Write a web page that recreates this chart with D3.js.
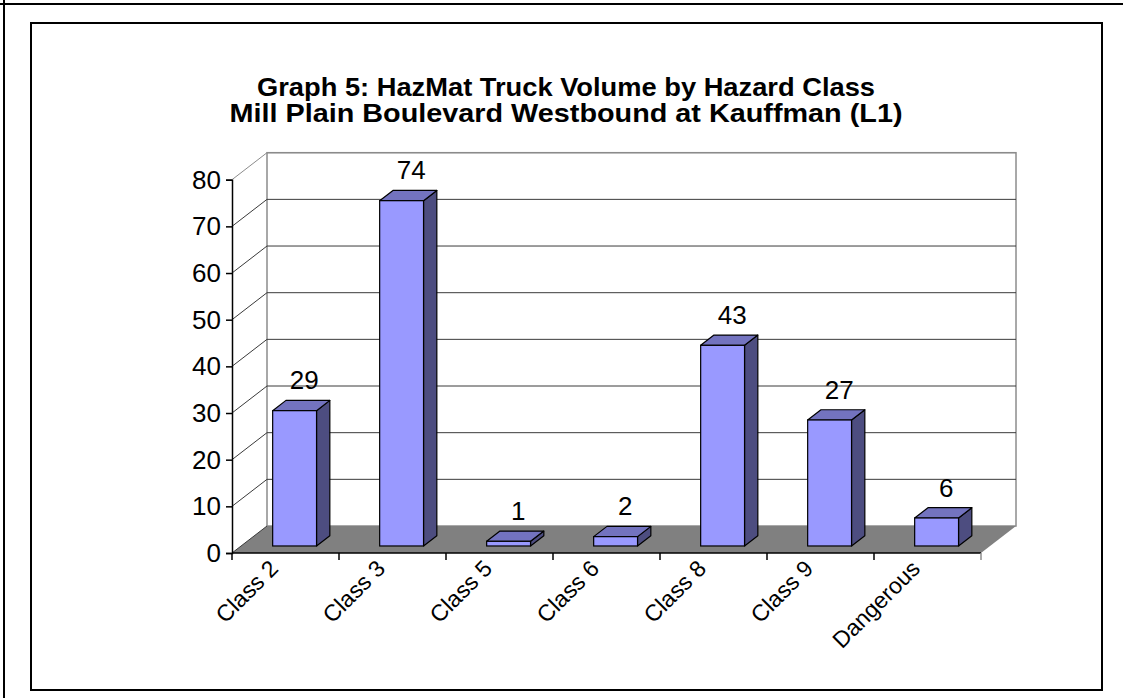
<!DOCTYPE html>
<html>
<head>
<meta charset="utf-8">
<script src="https://cdn.jsdelivr.net/npm/d3@7"></script>
<style>
  body { margin: 0; background: #fff; }
  svg { display: block; font-family: "Liberation Sans", Arial, sans-serif; }
</style>
</head>
<body>
<div id="chart"></div>
<script>
const categories = ["Class 2", "Class 3", "Class 5", "Class 6", "Class 8", "Class 9", "Dangerous"];
const values = [29, 74, 1, 2, 43, 27, 6];
const yTicks = [0, 10, 20, 30, 40, 50, 60, 70, 80];
const titleLines = ["Graph 5: HazMat Truck Volume by Hazard Class", "Mill Plain Boulevard Westbound at Kauffman (L1)"];

const width = 1123;
const height = 698;

const svg = d3.select("#chart").append("svg").attr("width", width).attr("height", height);

// page frames
svg.append("line").attr("x1", 4).attr("y1", 0).attr("x2", 4).attr("y2", height).attr("stroke", "#000").attr("stroke-width", 2);
svg.append("line").attr("x1", 0).attr("y1", 4).attr("x2", width).attr("y2", 4).attr("stroke", "#000").attr("stroke-width", 2);
svg.append("rect").attr("x", 31).attr("y", 23).attr("width", 1071).attr("height", 667)
    .attr("fill", "#fff").attr("stroke", "#000").attr("stroke-width", 2);

// title
const titleWidths = [618, 673];
svg.selectAll(".title").data(titleLines).enter().append("text")
    .attr("class", "title")
    .attr("x", 566)
    .attr("y", (d, i) => 96 + i * 26)
    .attr("text-anchor", "middle")
    .attr("textLength", (d, i) => titleWidths[i])
    .attr("lengthAdjust", "spacingAndGlyphs")
    .style("font-size", "25px")
    .style("font-weight", "bold")
    .text(d => d);

// 3d geometry
const x0 = 232, x1 = 981;
const depthX = 35, depthY = 27;

const x = d3.scaleBand().domain(categories).range([x0, x1]);
const y = d3.scaleLinear().domain([0, 80]).range([553, 179.7]);

const g = svg.append("g");

// back wall
g.append("rect")
    .attr("x", x0 + depthX).attr("y", y(80) - depthY)
    .attr("width", x1 - x0).attr("height", y(0) - y(80))
    .attr("fill", "#fff").attr("stroke", "#8c8c8c").attr("stroke-width", 1.5);

// gridlines on back wall + side wall diagonals
yTicks.filter(t => t > 0).forEach(t => {
    const col = t === 80 ? "#8c8c8c" : "#3a3a3a";
    g.append("line")
        .attr("x1", x0 + depthX).attr("x2", x1 + depthX)
        .attr("y1", y(t) - depthY).attr("y2", y(t) - depthY)
        .attr("stroke", col).attr("stroke-width", 1);
    g.append("line")
        .attr("x1", x0).attr("x2", x0 + depthX)
        .attr("y1", y(t)).attr("y2", y(t) - depthY)
        .attr("stroke", col).attr("stroke-width", 1);
});

// floor
g.append("polygon")
    .attr("points", [[x0, y(0)], [x1, y(0)], [x1 + depthX, y(0) - depthY], [x0 + depthX, y(0) - depthY]].join(" "))
    .attr("fill", "#808080");
g.append("line")
    .attr("x1", x0).attr("x2", x0 + depthX)
    .attr("y1", y(0)).attr("y2", y(0) - depthY)
    .attr("stroke", "#3a3a3a");

// bars
const f0 = 0.26, f1 = 0.64;
const barW = x.bandwidth() * 0.41;

const bars = g.selectAll(".bar").data(values).enter().append("g").attr("class", "bar");

function barGeom(v, i) {
    const left = x(categories[i]) + (x.bandwidth() - barW) / 2 + depthX * f0;
    const right = left + barW;
    const top = y(v) - depthY * f0;
    const bottom = y(0) - depthY * f0;
    const dx = depthX * (f1 - f0), dy = depthY * (f1 - f0);
    return { left, right, top, bottom, dx, dy };
}

bars.append("polygon")
    .attr("points", (d, i) => {
        const b = barGeom(d, i);
        return [[b.right, b.top], [b.right + b.dx, b.top - b.dy], [b.right + b.dx, b.bottom - b.dy], [b.right, b.bottom]].join(" ");
    })
    .attr("fill", "#4d4d80").attr("stroke", "#000").attr("stroke-width", 1.2).attr("stroke-linejoin", "round");

bars.append("polygon")
    .attr("points", (d, i) => {
        const b = barGeom(d, i);
        return [[b.left, b.top], [b.left + b.dx, b.top - b.dy], [b.right + b.dx, b.top - b.dy], [b.right, b.top]].join(" ");
    })
    .attr("fill", "#7373bf").attr("stroke", "#000").attr("stroke-width", 1.2).attr("stroke-linejoin", "round");

bars.append("rect")
    .attr("x", (d, i) => barGeom(d, i).left)
    .attr("y", (d, i) => barGeom(d, i).top)
    .attr("width", barW)
    .attr("height", (d, i) => { const b = barGeom(d, i); return b.bottom - b.top; })
    .attr("fill", "#9999ff").attr("stroke", "#000").attr("stroke-width", 1.2);

// value labels
bars.append("text")
    .attr("x", (d, i) => { const b = barGeom(d, i); return (b.left + b.right) / 2 + b.dx / 2 + 3; })
    .attr("y", (d, i) => { const b = barGeom(d, i); return b.top - b.dy - 11; })
    .attr("text-anchor", "middle")
    .style("font-size", "26px")
    .text(d => d);

// y axis
const yAxis = g.append("g")
    .attr("transform", `translate(${x0},0)`)
    .call(d3.axisLeft(y).tickValues(yTicks).tickSize(6).tickPadding(5));
yAxis.select(".domain").attr("stroke", "#000").attr("stroke-width", 1.5);
yAxis.selectAll(".tick line").attr("stroke", "#000").attr("stroke-width", 1.5);
yAxis.selectAll(".tick text").style("font-size", "26px").style("font-family", "Liberation Sans, Arial, sans-serif").attr("fill", "#000");

// x axis line and ticks at category boundaries
g.append("line")
    .attr("x1", x0).attr("x2", x1)
    .attr("y1", y(0)).attr("y2", y(0))
    .attr("stroke", "#000").attr("stroke-width", 1.5);
const boundaries = categories.map(c => x(c) + x.bandwidth()).concat([x0]);
g.selectAll(".xtick").data(boundaries).enter().append("line")
    .attr("class", "xtick")
    .attr("x1", d => d).attr("x2", d => d)
    .attr("y1", y(0)).attr("y2", y(0) + 7)
    .attr("stroke", d => d >= x1 - 1 ? "#8c8c8c" : "#000")
    .attr("stroke-width", 1.5);

// category labels
g.selectAll(".xlab").data(categories).enter().append("text")
    .attr("class", "xlab")
    .attr("transform", d => `translate(${x(d) + x.bandwidth() / 2 - 6},${570}) rotate(-45)`)
    .attr("text-anchor", "end")
    .style("font-size", "23px")
    .text(d => d);
</script>
</body>
</html>
